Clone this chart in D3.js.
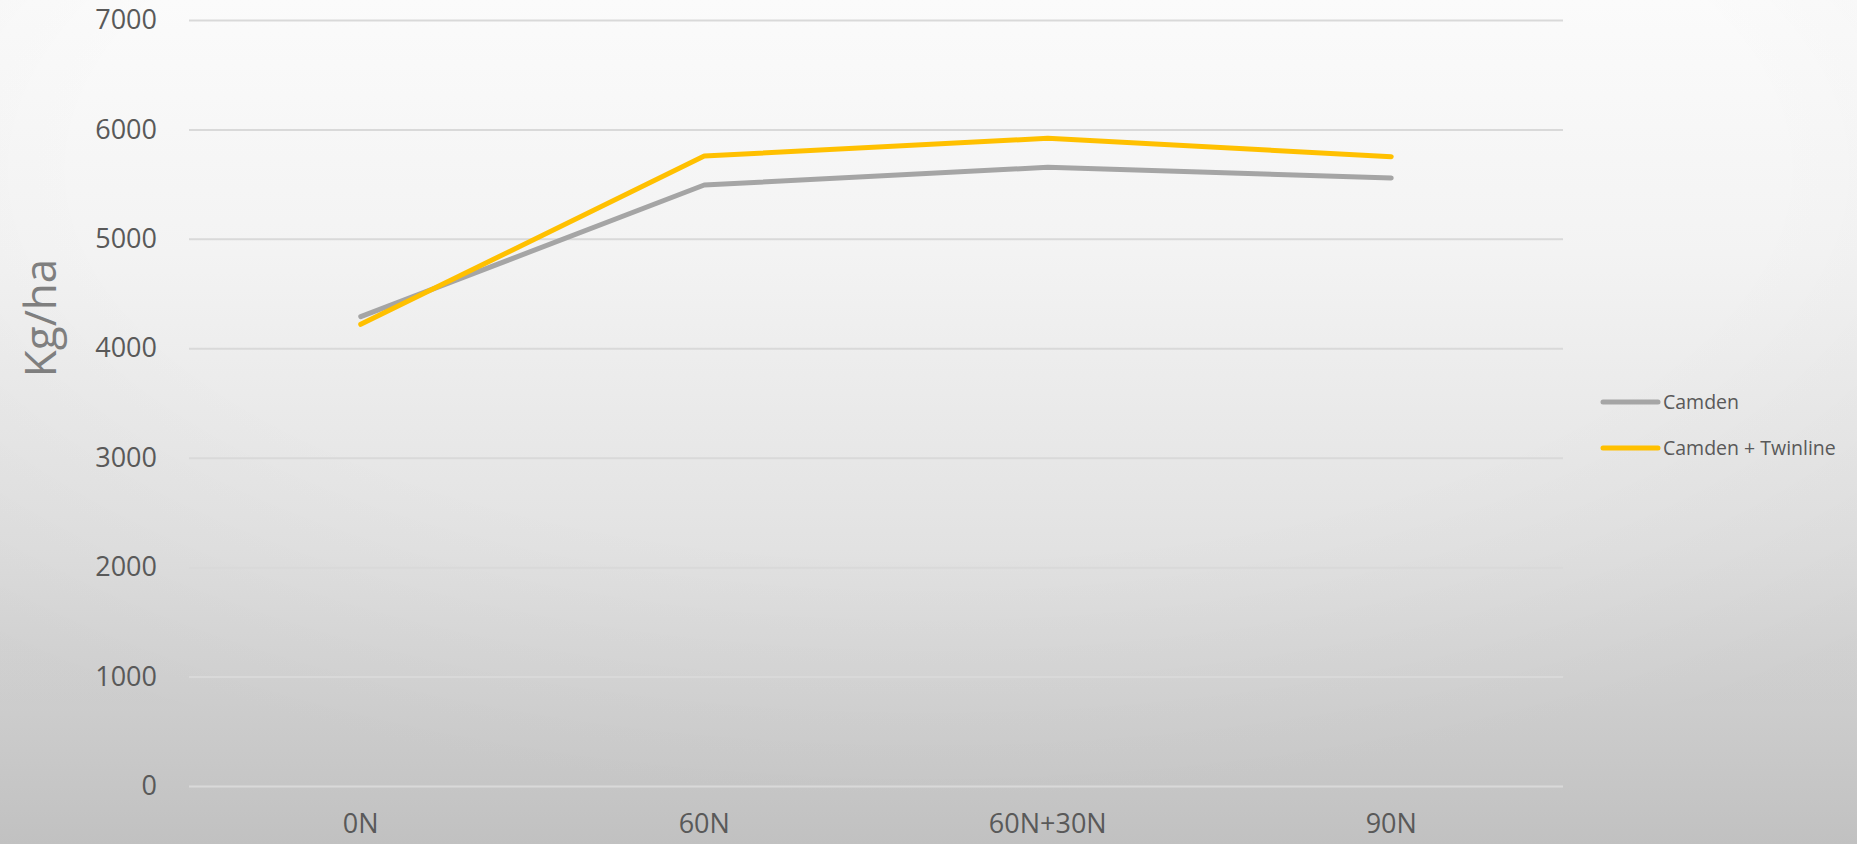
<!DOCTYPE html>
<html>
<head>
<meta charset="utf-8">
<script src="https://cdn.jsdelivr.net/npm/d3@7"></script>
<style>
  html, body { margin: 0; padding: 0; overflow: hidden; }
  svg { display: block; }
</style>
</head>
<body>
<svg id="chart" width="1857" height="844"></svg>
<script>
// Nitrogen treatments on the x axis
const categories = ["0N", "60N", "60N+30N", "90N"];
// Yield (kg/ha) for each variety
const camden = [4289, 5492, 5654, 5556];
const camdenTwinline = [4219, 5757, 5919, 5751];
const seriesNames = ["Camden", "Camden + Twinline"];
const yTicks = [0, 1000, 2000, 3000, 4000, 5000, 6000, 7000];
const yLabel = "Kg/ha";

const W = 1857, H = 844;
const plot = { left: 189, right: 1563, top: 20, bottom: 786 };

const svg = d3.select("#chart");
const defs = svg.append("defs");

// soft grey backdrop, lightest at the top
const bg = defs.append("linearGradient")
  .attr("id", "bg").attr("x1", 0).attr("y1", 0).attr("x2", 0).attr("y2", 1);
bg.append("stop").attr("offset", "0%").attr("stop-color", "#fbfbfb");
bg.append("stop").attr("offset", "30%").attr("stop-color", "#f3f3f3");
bg.append("stop").attr("offset", "65%").attr("stop-color", "#e2e2e2");
bg.append("stop").attr("offset", "100%").attr("stop-color", "#c9c9c9");
svg.append("rect").attr("width", W).attr("height", H).attr("fill", "url(#bg)");

// slight darkening toward the lower corners
const vig = defs.append("radialGradient")
  .attr("id", "vig").attr("cx", "50%").attr("cy", "20%").attr("r", "75%");
vig.append("stop").attr("offset", "60%").attr("stop-color", "#000").attr("stop-opacity", 0);
vig.append("stop").attr("offset", "100%").attr("stop-color", "#000").attr("stop-opacity", 0.04);
svg.append("rect").attr("width", W).attr("height", H).attr("fill", "url(#vig)");

const x = d3.scaleBand().domain(categories).range([plot.left, plot.right]);
const y = d3.scaleLinear().domain([0, 7000]).range([plot.bottom, plot.top]);

// horizontal gridlines with value labels
const yAxis = d3.axisLeft(y).tickValues(yTicks).tickFormat(d3.format("d"))
  .tickSize(-(plot.right - plot.left)).tickPadding(32);
const yg = svg.append("g").attr("transform", `translate(${plot.left},0)`).call(yAxis);
yg.select(".domain").remove();
yg.selectAll(".tick line").attr("stroke", "#d9d9d9").attr("stroke-width", 2);
yg.selectAll(".tick text")
  .attr("fill", "#595959")
  .style("font-family", "'Open Sans', 'Segoe UI', sans-serif")
  .style("font-size", "27px");

// category labels
const xAxis = d3.axisBottom(x).tickSize(0).tickPadding(28);
const xg = svg.append("g").attr("transform", `translate(0,${plot.bottom})`).call(xAxis);
xg.select(".domain").remove();
xg.selectAll(".tick text")
  .attr("fill", "#595959")
  .style("font-family", "'Open Sans', 'Segoe UI', sans-serif")
  .style("font-size", "27px");

// y axis title
svg.append("text")
  .attr("transform", `translate(56,318) rotate(-90)`)
  .attr("text-anchor", "middle")
  .attr("fill", "#7f7f7f")
  .style("font-family", "'URW Gothic', 'Century Gothic', 'Open Sans', sans-serif")
  .style("font-size", "44px")
  .text(yLabel);

// yield lines
const series = [
  { name: seriesNames[0], values: camden, color: "#a5a5a5" },
  { name: seriesNames[1], values: camdenTwinline, color: "#ffc000" }
];
const line = d3.line()
  .x((d, i) => x(categories[i]) + x.bandwidth() / 2)
  .y(d => y(d));

svg.append("g").selectAll("path").data(series).join("path")
  .attr("d", d => line(d.values))
  .attr("fill", "none")
  .attr("stroke", d => d.color)
  .attr("stroke-width", 5)
  .attr("stroke-linecap", "round")
  .attr("stroke-linejoin", "round");

// legend
const legend = svg.append("g").attr("transform", "translate(1603,402)");
const item = legend.selectAll("g").data(series).join("g")
  .attr("transform", (d, i) => `translate(0,${i * 46})`);
item.append("line")
  .attr("x1", 0).attr("x2", 55).attr("y1", 0).attr("y2", 0)
  .attr("stroke", d => d.color).attr("stroke-width", 5).attr("stroke-linecap", "round");
item.append("text")
  .attr("x", 60).attr("y", 0).attr("dy", "0.35em")
  .attr("fill", "#595959")
  .style("font-family", "'Open Sans', 'Segoe UI', sans-serif")
  .style("font-size", "19.5px")
  .text(d => d.name);
</script>
</body>
</html>
